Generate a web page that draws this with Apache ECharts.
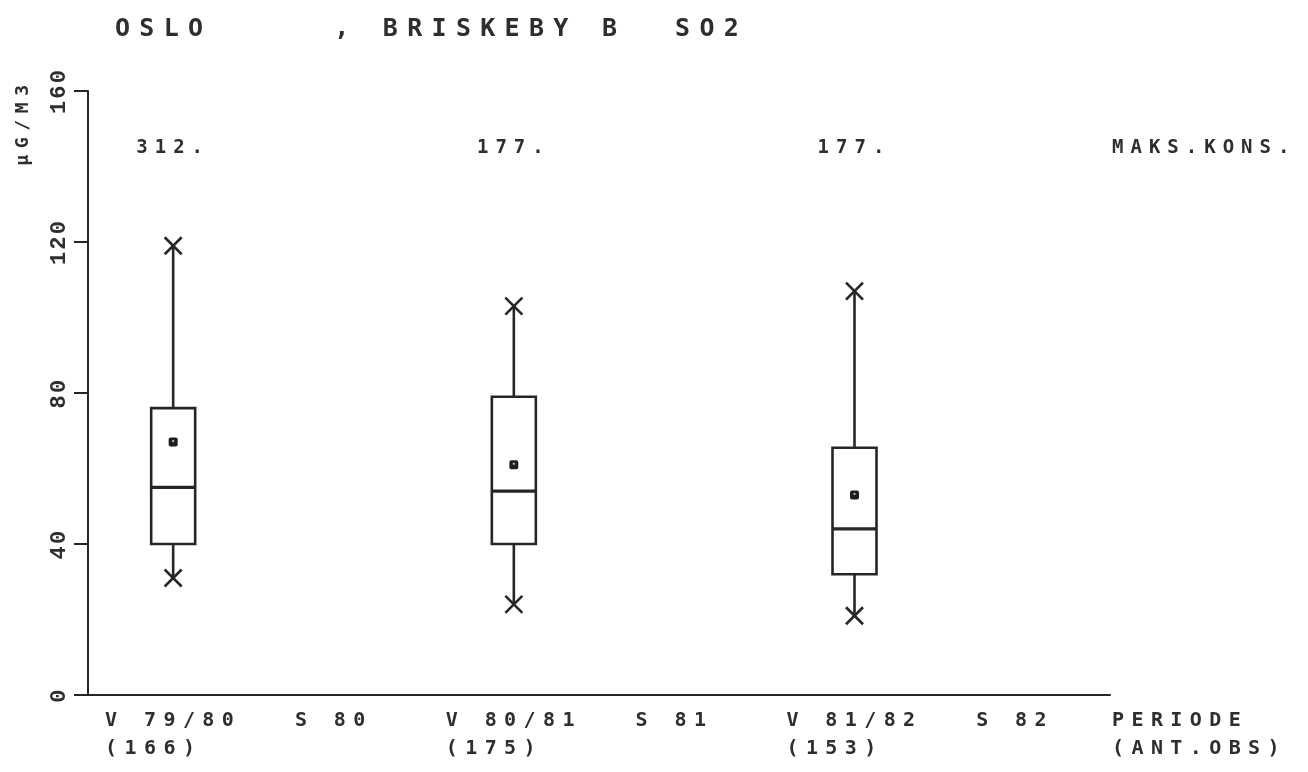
<!DOCTYPE html>
<html>
<head>
<meta charset="utf-8">
<style>
  html, body { margin: 0; padding: 0; background: #ffffff; }
  #chart { width: 1308px; height: 772px; }
</style>
<script src="https://cdn.jsdelivr.net/npm/echarts@6/dist/echarts.min.js"></script>
</head>
<body>
<div id="chart"></div>
<script>
// Periods on the x axis and observation counts for each winter period
const periods = ['V 79/80', 'S 80', 'V 80/81', 'S 81', 'V 81/82', 'S 82'];
const obsCounts = [166, null, 175, null, 153, null];

// Box statistics (µg/m3) for the winter periods
const boxPeriods = ['V 79/80', 'V 80/81', 'V 81/82'];
const minVals    = [31, 24, 21];
const q1Vals     = [40, 40, 32];
const medianVals = [55, 54, 44];
const q3Vals     = [76, 79, 65.5];
const maxVals    = [119, 103, 107];
const meanVals   = [67, 61, 53];

// Highest single concentration per period (printed above the boxes)
const maxConc = ['312.', '177.', '177.'];

// Y axis ticks
const yTicks = { min: 0, max: 160, step: 40 };

// Plotter-style lettering: wide letter spacing proportional to font size.
// The tick numbers on the value axis use a tighter spacing (Liberation Mono).
(function () {
  const desc = Object.getOwnPropertyDescriptor(CanvasRenderingContext2D.prototype, 'font');
  Object.defineProperty(CanvasRenderingContext2D.prototype, 'font', {
    configurable: true,
    get() { return desc.get.call(this); },
    set(v) {
      desc.set.call(this, v);
      const m = /(\d+(?:\.\d+)?)px/.exec(v);
      if (m && 'letterSpacing' in this) {
        const ratio = /^\W*Liberation Mono/.test(v.replace(/^[^"']*/, '')) ? 0.1 : 0.37;
        this.letterSpacing = (parseFloat(m[1]) * ratio).toFixed(1) + 'px';
      }
    }
  });
})();

const INK = '#262626';
const TEXT = '#2e2e2e';
const MONO = '"DejaVu Sans Mono", "Liberation Mono", monospace';
const MONO_TIGHT = '"Liberation Mono", "DejaVu Sans Mono", monospace';
const MAX_ROW = 145;   // height (in axis units) of the max-concentration row

const boxData = boxPeriods.map((p, i) =>
  [p, minVals[i], q1Vals[i], medianVals[i], q3Vals[i], maxVals[i], meanVals[i]]);

function renderBox(params, api) {
  const cat = api.value(0);
  const px = v => api.coord([cat, v]);
  const cx = px(0)[0];
  const yMin = px(api.value(1))[1];
  const yQ1 = px(api.value(2))[1];
  const yMed = px(api.value(3))[1];
  const yQ3 = px(api.value(4))[1];
  const yMax = px(api.value(5))[1];
  const yMean = px(api.value(6))[1];
  const hw = 22, xs = 8.5, ms = 4.5;
  const line = { stroke: INK, lineWidth: 2.6, fill: null };
  const cross = (y) => ([
    { type: 'line', shape: { x1: cx - xs, y1: y - xs, x2: cx + xs, y2: y + xs }, style: line },
    { type: 'line', shape: { x1: cx - xs, y1: y + xs, x2: cx + xs, y2: y - xs }, style: line }
  ]);
  return {
    type: 'group',
    children: [
      { type: 'line', shape: { x1: cx, y1: yQ3, x2: cx, y2: yMax }, style: line },
      { type: 'line', shape: { x1: cx, y1: yQ1, x2: cx, y2: yMin }, style: line },
      { type: 'rect', shape: { x: cx - hw, y: yQ3, width: hw * 2, height: yQ1 - yQ3 },
        style: { stroke: INK, lineWidth: 2.6, fill: '#ffffff' } },
      { type: 'line', shape: { x1: cx - hw, y1: yMed, x2: cx + hw, y2: yMed },
        style: { stroke: INK, lineWidth: 3.2 } },
      { type: 'rect', shape: { x: cx - ms, y: yMean - ms, width: ms * 2, height: ms * 2, r: 2 },
        style: { fill: '#1e1e1e' } },
      { type: 'rect', shape: { x: cx - 1, y: yMean - 2, width: 2, height: 2 },
        style: { fill: '#bbbbbb' } }
    ].concat(cross(yMax), cross(yMin))
  };
}

const chart = echarts.init(document.getElementById('chart'), null, { renderer: 'canvas' });

chart.setOption({
  backgroundColor: '#ffffff',
  animation: false,
  title: {
    text: 'OSLO     , BRISKEBY B  SO2',
    left: 110,
    top: 7,
    textStyle: { fontFamily: MONO, fontSize: 25, fontWeight: 'bold', color: TEXT }
  },
  grid: { left: 88, right: 198, top: 91, bottom: 77 },
  xAxis: {
    type: 'category',
    data: periods,
    boundaryGap: true,
    axisLine: { lineStyle: { color: INK, width: 2 } },
    axisTick: { alignWithLabel: true, length: 12, lineStyle: { color: INK, width: 2 } },
    splitLine: { show: false },
    axisLabel: {
      interval: 0,
      margin: 12,
      fontFamily: MONO,
      fontSize: 20,
      fontWeight: 'bold',
      lineHeight: 28,
      color: TEXT,
      formatter: (name, idx) => {
        const n = obsCounts[idx];
        if (n == null) return name + ' ';
        const second = '(' + n + ')';
        return name + '\n' + second + ' '.repeat(Math.max(0, name.length - second.length));
      }
    }
  },
  yAxis: {
    type: 'value',
    min: yTicks.min,
    max: yTicks.max,
    interval: yTicks.step,
    axisLine: { show: true, lineStyle: { color: INK, width: 2 } },
    axisTick: { show: true, length: 14, lineStyle: { color: INK, width: 2 } },
    splitLine: { show: false },
    axisLabel: {
      rotate: 90,
      margin: 16,
      fontFamily: MONO_TIGHT,
      fontSize: 22,
      fontWeight: 'bold',
      color: TEXT
    }
  },
  series: [
    {
      type: 'custom',
      renderItem: renderBox,
      data: boxData,
      encode: { x: 0, y: [1, 2, 3, 4, 5, 6] },
      z: 3
    },
    {
      type: 'scatter',
      symbolSize: 0,
      itemStyle: { opacity: 1 },
      data: boxPeriods.map(p => [p, MAX_ROW]),
      label: {
        show: true,
        position: 'inside',
        formatter: p => maxConc[p.dataIndex],
        fontFamily: MONO,
        fontSize: 19,
        fontWeight: 'bold',
        color: TEXT
      },
      silent: true
    }
  ],
  graphic: [
    {
      type: 'text',
      x: 23, y: 122,
      rotation: Math.PI / 2,
      style: {
        text: 'µG/M3', fontFamily: MONO, fontSize: 18, fontWeight: 'bold', fill: TEXT,
        align: 'center', verticalAlign: 'middle'
      }
    },
    {
      type: 'text',
      x: 1112, y: 148,
      style: {
        text: 'MAKS.KONS.', fontFamily: MONO, fontSize: 19, fontWeight: 'bold', fill: TEXT,
        align: 'left', verticalAlign: 'middle'
      }
    },
    {
      type: 'text',
      x: 1112, y: 707,
      style: {
        text: 'PERIODE\n(ANT.OBS)', fontFamily: MONO, fontSize: 20, fontWeight: 'bold',
        lineHeight: 28, fill: TEXT, align: 'left', verticalAlign: 'top'
      }
    }
  ]
});
</script>
</body>
</html>
